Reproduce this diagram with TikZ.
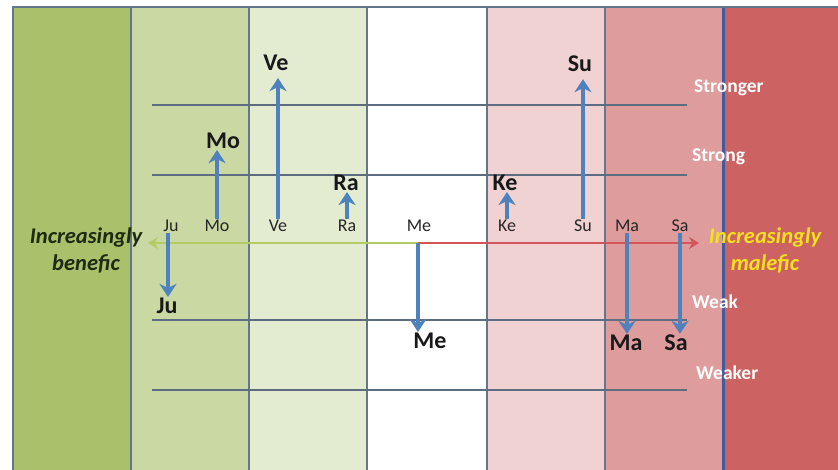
\documentclass[tikz,border=0pt]{standalone}
\usepackage{fontspec}
\setmainfont{Carlito}
\usetikzlibrary{arrows.meta}
\definecolor{greenA}{HTML}{A9C16A}
\definecolor{greenB}{HTML}{CAD9A3}
\definecolor{greenC}{HTML}{E3EBD1}
\definecolor{pinkA}{HTML}{F1D2D2}
\definecolor{pinkB}{HTML}{DF9C9C}
\definecolor{redA}{HTML}{CD6262}
\definecolor{frame}{HTML}{66768A}
\definecolor{frameblue}{HTML}{3F5C9E}
\definecolor{levelgrey}{HTML}{5E6C82}
\definecolor{planetblue}{HTML}{4F81BD}
\definecolor{axisgreen}{HTML}{B3CB62}
\definecolor{axisred}{HTML}{D2555C}
\definecolor{benefictext}{HTML}{1E2A12}
\definecolor{malefictext}{HTML}{F3E01E}

\begin{document}
\begin{tikzpicture}[x=1pt,y=-1pt,
  small/.style={inner sep=1pt,font=\fontsize{18}{20}\selectfont,text=black!85},
  big/.style={inner sep=1pt,font=\fontsize{24}{26}\selectfont\bfseries,text=black!90},
  levellabel/.style={anchor=west,inner sep=0pt,font=\fontsize{19.5}{21}\selectfont\bfseries,text=white},
  sidetext/.style={align=center,inner sep=0pt,font=\fontsize{22.5}{27}\selectfont\bfseries\itshape},
  move/.style={draw=planetblue,line width=3.8pt,-{Stealth[length=13pt,width=17pt,inset=4pt]}},
  level/.style={draw=levelgrey,line width=1.5pt}]
\useasboundingbox (0,0) rectangle (838,470);
% columns
\foreach \xa/\xb/\c in {13/131/greenA,131/249/greenB,249/367/greenC,367/487/white,487/605/pinkA,605/723/pinkB,723/838/redA}
  \fill[\c] (\xa,7) rectangle (\xb,470);
\foreach \xa in {131,249,367,487,605}
  \draw[frame,line width=2.8pt] (\xa,7) -- (\xa,470);
\draw[frameblue,line width=3pt] (723,7) -- (723,470);
\draw[frame,line width=2.8pt] (13,470) -- (13,7) -- (838,7);
% strength levels
\foreach \y in {105,175,320,390}
  \draw[level] (152,\y) -- (687,\y);
\node[levellabel] (stronger) at (694,88) {Stronger};
\node[levellabel] (strong) at (692,157) {Strong};
\node[levellabel] (weak) at (692,302) {Weak};
\node[levellabel] (weaker) at (696,373) {Weaker};
% axis
\coordinate (axL) at (148,243);
\coordinate (axM) at (418,243);
\coordinate (axR) at (699,243);
\draw[axisgreen,line width=2.8pt,-{Stealth[length=10pt,width=12pt]}] (axM) -- (axL);
\draw[axisred,line width=2.8pt,-{Stealth[length=10pt,width=12pt]}] (axM) -- (axR);
\node[sidetext,text=benefictext] (benefic) at (86,250) {Increasingly\\benefic};
\node[sidetext,text=malefictext] (malefic) at (765,250) {Increasingly\\malefic};
% planets on the axis
\node[small] (juS) at (171,226) {Ju};
\node[small] (moS) at (217,226) {Mo};
\node[small] (veS) at (278,226) {Ve};
\node[small] (raS) at (347,226) {Ra};
\node[small] (meS) at (419,226) {Me};
\node[small] (keS) at (507,226) {Ke};
\node[small] (suS) at (583,226) {Su};
\node[small] (maS) at (627,226) {Ma};
\node[small] (saS) at (680,226) {Sa};
% planets moved
\node[big] (veB) at (276,63) {Ve};
\node[big] (suB) at (580,64) {Su};
\node[big] (moB) at (223,141) {Mo};
\node[big] (raB) at (346,183) {Ra};
\node[big] (keB) at (505,183) {Ke};
\node[big] (juB) at (167,306) {Ju};
\node[big] (meB) at (430,341) {Me};
\node[big] (maB) at (626,343) {Ma};
\node[big] (saB) at (676,343) {Sa};
\draw[move,shorten >=6pt] (veS.north) -- (veS.north |- veB.south);
\draw[move,shorten >=6pt] (suS.north) -- (suS.north |- suB.south);
\draw[move] (moS.north) -- (moS.north |- moB.south);
\draw[move] (raS.north) -- (raS.north |- raB.south);
\draw[move] (keS.north) -- (keS.north |- keB.south);
\draw[move] ([xshift=-3pt]juS.south) -- ([xshift=-3pt]juS.south |- juB.north);
\draw[move] (axM) -- (axM |- meB.north);
\draw[move] (maS.south) -- (maS.south |- maB.north);
\draw[move] (saS.south) -- (saS.south |- saB.north);
\end{tikzpicture}
\end{document}
